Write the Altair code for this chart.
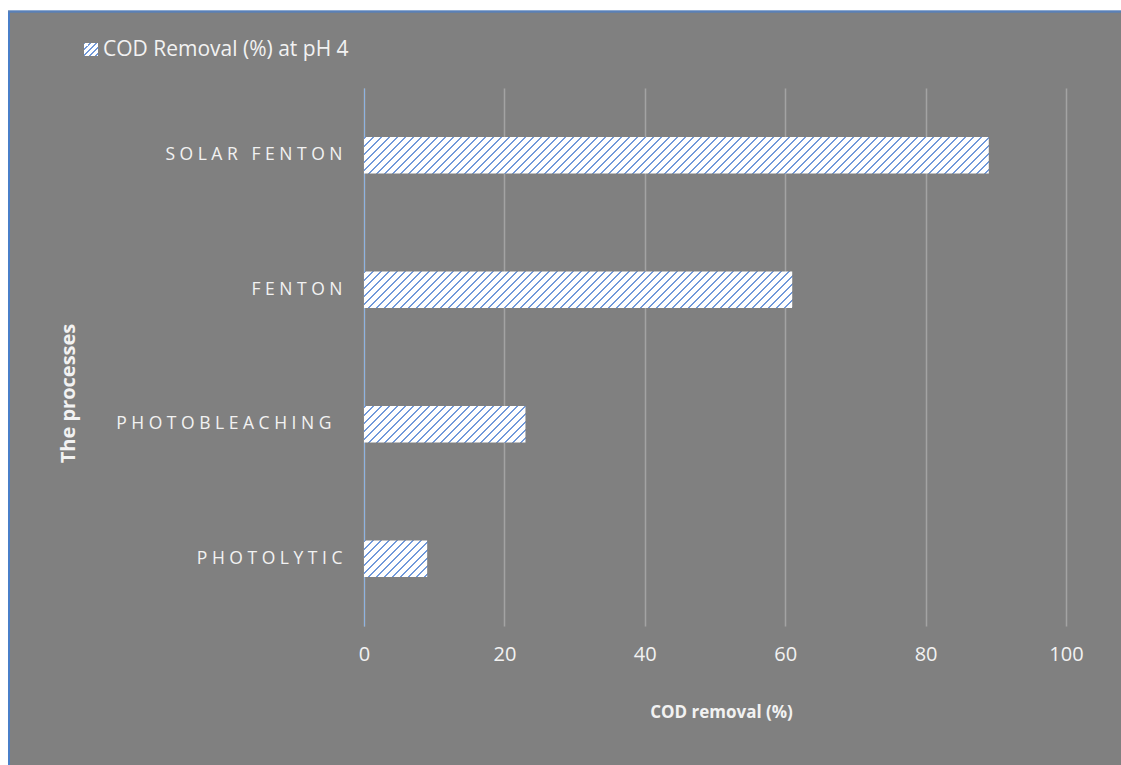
import altair as alt
import pandas as pd

# COD removal at pH 4 for each treatment process
processes = ["SOLAR FENTON", "FENTON", "PHOTOBLEACHING ", "PHOTOLYTIC"]
removal = [89, 61, 23, 9]

axis_ticks = [0, 20, 40, 60, 80, 100]
legend_label = "COD Removal (%) at pH 4"
x_title = "COD removal (%)"
y_title = "The processes"

NBSP = "\u00a0"


def spaced(name):
    """Letter-spaced, upper-case category label."""
    return NBSP.join(ch if ch != " " else NBSP for ch in name)


df = pd.DataFrame({"process": processes, "removal": removal})
df["label"] = [spaced(p) for p in processes]

# plot-area geometry
W, H = 702, 538
PAD_L, PAD_T = 364, 88
PAD_R = 1121 - W - PAD_L
PAD_B = 765 - H - PAD_T
BAR_PAD = 0.73
BAR_H = H / 4 * (1 - BAR_PAD)

GREY = "#808080"
TEXT = "#f2f2f2"
HATCH = "#7199da"
FONT = "Open Sans"


def hatch(w, h, period=8.0, frac=0.27):
    """Diagonal '/' hatch as a hard-stop linear gradient over a w x h box."""
    k = (w + h) / (w * w + h * h)
    n = (w + h) / period
    stops = []
    i = 0
    while i < n:
        a = i / n
        b = min((i + frac) / n, 1.0)
        stops += [
            {"offset": a, "color": "white"},
            {"offset": a, "color": HATCH},
            {"offset": b, "color": HATCH},
            {"offset": b, "color": "white"},
        ]
        i += 1
    stops.append({"offset": 1.0, "color": "white"})
    return {"gradient": "linear", "x1": 0, "y1": 0, "x2": w * k, "y2": h * k, "stops": stops}


x_enc = alt.X(
    "removal:Q",
    scale=alt.Scale(domain=[0, 100], nice=False),
    axis=alt.Axis(
        values=axis_ticks,
        title=x_title,
        grid=True,
        gridColor="#a3a3a3",
        gridWidth=1.5,
        domain=False,
        ticks=False,
        labelFlush=False,
        labelPadding=18,
        labelFontSize=20,
        labelColor=TEXT,
        labelFont=FONT,
        titleFont=FONT,
        titleFontSize=17,
        titleFontWeight="bold",
        titleColor=TEXT,
        titleX=W / 2 + 6,
        titleY=86,
        titleBaseline="middle",
    ),
)

# a label whose name carries a trailing blank sits a little further out
trailing_blank = "slice(datum.value, -1) == '" + NBSP + "'"

y_enc = alt.Y(
    "label:N",
    sort=None,
    scale=alt.Scale(paddingInner=BAR_PAD, paddingOuter=BAR_PAD / 2),
    axis=alt.Axis(
        title=y_title,
        domainColor="#8db3e2",
        domainWidth=1,
        ticks=False,
        grid=False,
        labelPadding={"condition": {"test": trailing_blank, "value": 33}, "value": 22},
        labelFontSize=17.5,
        labelLimit=0,
        labelColor=TEXT,
        labelFont=FONT,
        titleFont=FONT,
        titleFontSize=20,
        titleFontWeight="bold",
        titleColor=TEXT,
        titleAngle=270,
        titleX=-296,
        titleY=305,
        titleBaseline="middle",
        titleAlign="center",
    ),
)

layers = []
for proc, val in zip(processes, removal):
    bar_w = val / 100 * W
    layers.append(
        alt.Chart(df)
        .transform_filter(alt.datum.process == proc)
        .mark_bar(fill=hatch(bar_w, BAR_H))
        .encode(x=x_enc, y=y_enc)
    )

# white margin and blue frame at the top-left of the figure
frame_left = alt.Chart(df).mark_rect(color="white", clip=False).encode(
    x=alt.value(-PAD_L), x2=alt.value(8 - PAD_L), y=alt.value(-PAD_T), y2=alt.value(H + PAD_B)
)
frame_top = alt.Chart(df).mark_rect(color="white", clip=False).encode(
    x=alt.value(-PAD_L), x2=alt.value(W + PAD_R), y=alt.value(-PAD_T), y2=alt.value(11 - PAD_T)
)
edge_left = alt.Chart(df).mark_rule(color="#4a7fc8", strokeWidth=2, clip=False).encode(
    x=alt.value(9 - PAD_L), y=alt.value(11 - PAD_T), y2=alt.value(H + PAD_B)
)
edge_top = alt.Chart(df).mark_rule(color="#5a80b8", strokeWidth=1.5, clip=False).encode(
    x=alt.value(8 - PAD_L), x2=alt.value(W + PAD_R), y=alt.value(11.5 - PAD_T)
)

# legend: hatched swatch plus series name
legend_df = pd.DataFrame({"name": [legend_label]})
swatch = alt.Chart(legend_df).mark_rect(fill=hatch(14, 13, period=6), clip=False).encode(
    x=alt.value(84 - PAD_L), x2=alt.value(98 - PAD_L), y=alt.value(43 - PAD_T), y2=alt.value(56 - PAD_T)
)
legend_text = alt.Chart(legend_df).mark_text(
    align="left", baseline="middle", font=FONT, fontSize=21, color=TEXT, clip=False
).encode(x=alt.value(103 - PAD_L), y=alt.value(50 - PAD_T), text="name:N")

chart = (
    alt.layer(*layers, frame_left, frame_top, edge_left, edge_top, swatch, legend_text)
    .properties(
        width=W,
        height=H,
        padding={"left": PAD_L, "top": PAD_T, "right": PAD_R, "bottom": PAD_B},
        autosize=alt.AutoSizeParams(type="none"),
        background=GREY,
    )
    .configure_view(stroke=None)
)

chart.save("out.html", embed_options={"renderer": "svg", "actions": False})
